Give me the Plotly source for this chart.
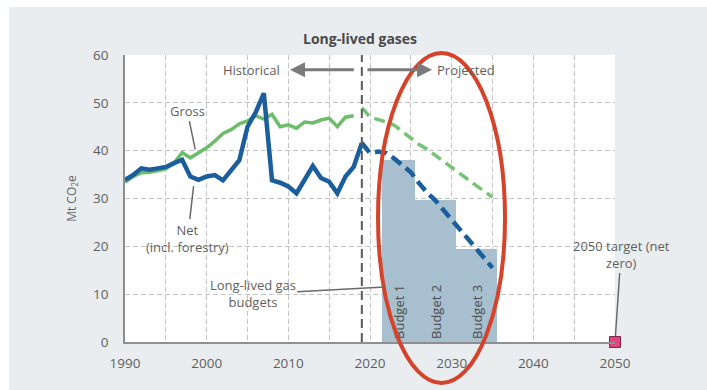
import plotly.graph_objects as go

# Historical emissions (Mt CO2e)
years_hist = list(range(1990, 2020))
net_hist = [33.9, 34.9, 36.3, 36.0, 36.3, 36.6, 37.4, 38.1, 34.6, 33.9,
            34.6, 34.9, 33.8, 36.0, 38.0, 45.0, 48.0, 52.0, 33.8, 33.3,
            32.5, 31.1, 34.0, 36.8, 34.3, 33.5, 31.1, 34.6, 36.6, 41.6]
years_gross_hist = list(range(1990, 2019))
gross_hist = [33.4, 34.6, 35.4, 35.5, 35.8, 36.2, 37.4, 39.6, 38.5, 39.5,
              40.6, 42.0, 43.6, 44.4, 45.6, 46.2, 47.3, 46.6, 47.6, 45.0,
              45.4, 44.7, 46.0, 45.8, 46.4, 46.8, 45.0, 47.0, 47.3]

# Projected emissions
years_proj = list(range(2019, 2036))
gross_proj = [49.0, 47.0, 46.5, 46.0, 45.3, 44.0, 42.5, 41.3, 40.3, 39.0,
              37.7, 36.4, 35.2, 34.0, 32.7, 31.5, 30.3]
net_proj = [41.6, 39.5, 39.8, 39.5, 38.3, 37.0, 35.5, 33.2, 31.2, 29.6,
            27.6, 25.6, 23.6, 21.6, 19.6, 17.6, 15.5]

# Emissions budgets (annual average level over each period)
budget_names = ["Budget 1", "Budget 2", "Budget 3"]
budget_start = [2022, 2026, 2031]
budget_end = [2025, 2030, 2035]
budget_level = [38.0, 29.7, 19.5]

target_year = [2050]
target_value = [0]
divider_year = 2019

x_ticks = [1990, 2000, 2010, 2020, 2030, 2040, 2050]
y_ticks = [0, 10, 20, 30, 40, 50, 60]

GREEN = "#6cbd6a"
GREEN_PROJ = "#76c374"
BLUE = "#1b5e9e"
BAR = "#a7bfcf"
TEXT = "#5f5f5f"
GRID = "#c4c4c4"
FONT = "Open Sans"

W, H = 707, 390
ML, MR, MT, MB = 125, 92, 55, 48
PW, PH = W - ML - MR, H - MT - MB


def px(x):
    return (x - ML) / PW


def py(y):
    return (H - MB - y) / PH


fig = go.Figure()

fig.add_trace(go.Bar(
    x=[(s + e) / 2 for s, e in zip(budget_start, budget_end)],
    y=budget_level,
    width=[e - s + 1 for s, e in zip(budget_start, budget_end)],
    marker=dict(color=BAR, line=dict(width=0)),
    text=budget_names,
    textposition="inside",
    insidetextanchor="start",
    textangle=-90,
    textfont=dict(family=FONT, size=13, color="#4d4d4d"),
    constraintext="none",
    hoverinfo="skip",
))

fig.add_trace(go.Scatter(x=years_gross_hist, y=gross_hist, mode="lines",
                         line=dict(color=GREEN, width=3.5)))
fig.add_trace(go.Scatter(x=years_proj, y=gross_proj, mode="lines",
                         line=dict(color=GREEN_PROJ, width=3.5, dash="11px,6px")))
fig.add_trace(go.Scatter(x=years_hist, y=net_hist, mode="lines",
                         line=dict(color=BLUE, width=4.5)))
fig.add_trace(go.Scatter(x=years_proj, y=net_proj, mode="lines",
                         line=dict(color=BLUE, width=4.5, dash="12px,6px")))
fig.add_trace(go.Scatter(x=target_year, y=target_value, mode="markers",
                         cliponaxis=False,
                         marker=dict(symbol="square", size=11, color="#e2457e",
                                     line=dict(color="#7a2545", width=1))))

# vertical divider between historical and projected periods
fig.add_shape(type="line", xref="x", yref="y", x0=divider_year, x1=divider_year,
              y0=0, y1=60, line=dict(color="#5a5a5a", width=2, dash="9px,5px"))

# white margin strips and the highlight ellipse
fig.add_shape(type="rect", xref="paper", yref="paper", x0=px(0), x1=px(W),
              y0=py(7), y1=py(0), fillcolor="white", line=dict(width=0), layer="below")
fig.add_shape(type="rect", xref="paper", yref="paper", x0=px(0), x1=px(9),
              y0=py(H), y1=py(0), fillcolor="white", line=dict(width=0), layer="below")
fig.add_shape(type="circle", xref="paper", yref="paper",
              x0=px(378), x1=px(505), y0=py(383), y1=py(53),
              line=dict(color="#d6432b", width=4), layer="above")

ann_font = dict(family=FONT, size=13, color=TEXT)
arrow_col = "#7a7a7a"
annotations = [
    dict(x=2010.2, y=56.9, ax=2018.2, ay=56.9, axref="x", ayref="y",
         showarrow=True, arrowhead=2, arrowsize=1, arrowwidth=3,
         arrowcolor=arrow_col, text=""),
    dict(x=2027.6, y=56.9, ax=2019.5, ay=56.9, axref="x", ayref="y",
         showarrow=True, arrowhead=2, arrowsize=1, arrowwidth=3,
         arrowcolor=arrow_col, text=""),
    dict(x=2009.2, y=56.9, text="Historical", showarrow=False,
         xanchor="right", font=ann_font),
    dict(x=2028.0, y=56.9, text="Projected", showarrow=False,
         xanchor="left", font=ann_font),
    dict(x=1998.6, y=40.2, ax=-8, ay=-39, text="Gross", showarrow=True,
         arrowhead=0, arrowwidth=1.5, arrowcolor="#6a6a6a", font=ann_font),
    dict(x=1998.4, y=32.6, ax=-6, ay=52, text="Net<br>(incl. forestry)",
         showarrow=True, arrowhead=0, arrowwidth=1.5, arrowcolor="#6a6a6a",
         font=ann_font),
    dict(x=2021.8, y=11.5, ax=-132, ay=7, text="Long-lived gas<br>budgets",
         showarrow=True, arrowhead=0, arrowwidth=1.5, arrowcolor="#6a6a6a",
         font=ann_font),
    dict(x=2050, y=0, ax=6, ay=-88, text="2050 target (net<br>zero)",
         showarrow=True, arrowhead=0, arrowwidth=1.5, arrowcolor="#6a6a6a",
         standoff=6, font=ann_font),
    dict(x=px(360), y=py(38), xref="paper", yref="paper",
         xanchor="center", yanchor="middle",
         text="<b>Long-lived gases</b>", showarrow=False,
         font=dict(family=FONT, size=14, color="#4a4a4a")),
]

fig.update_layout(
    width=W, height=H,
    margin=dict(l=ML, r=MR, t=MT, b=MB, pad=0),
    paper_bgcolor="#e9edf0",
    plot_bgcolor="white",
    showlegend=False,
    bargap=0,
    font=dict(family=FONT, size=13, color=TEXT),
    annotations=annotations,
    xaxis=dict(range=[1990, 2050], tickvals=x_ticks,
               showgrid=True, gridcolor=GRID, griddash="5px,3px", gridwidth=1.3,
               minor=dict(dtick=5, tick0=1990, showgrid=True, gridcolor=GRID,
                          griddash="5px,3px", gridwidth=1.3),
               showline=True, linecolor="#8f8f8f", linewidth=1.5,
               zeroline=False, ticks="", ticklabelstandoff=8,
               tickfont=dict(family=FONT, size=13.5, color=TEXT)),
    yaxis=dict(range=[0, 60], tickvals=y_ticks,
               showgrid=True, gridcolor=GRID, griddash="5px,3px", gridwidth=1.3,
               showline=True, linecolor="#8f8f8f", linewidth=1.5,
               zeroline=False, ticks="", ticklabelstandoff=12,
               tickfont=dict(family=FONT, size=13.5, color=TEXT),
               title=dict(text="Mt CO<sub>2</sub>e", standoff=14,
                          font=dict(family=FONT, size=12, color=TEXT))),
)

fig.write_html("out.html")
